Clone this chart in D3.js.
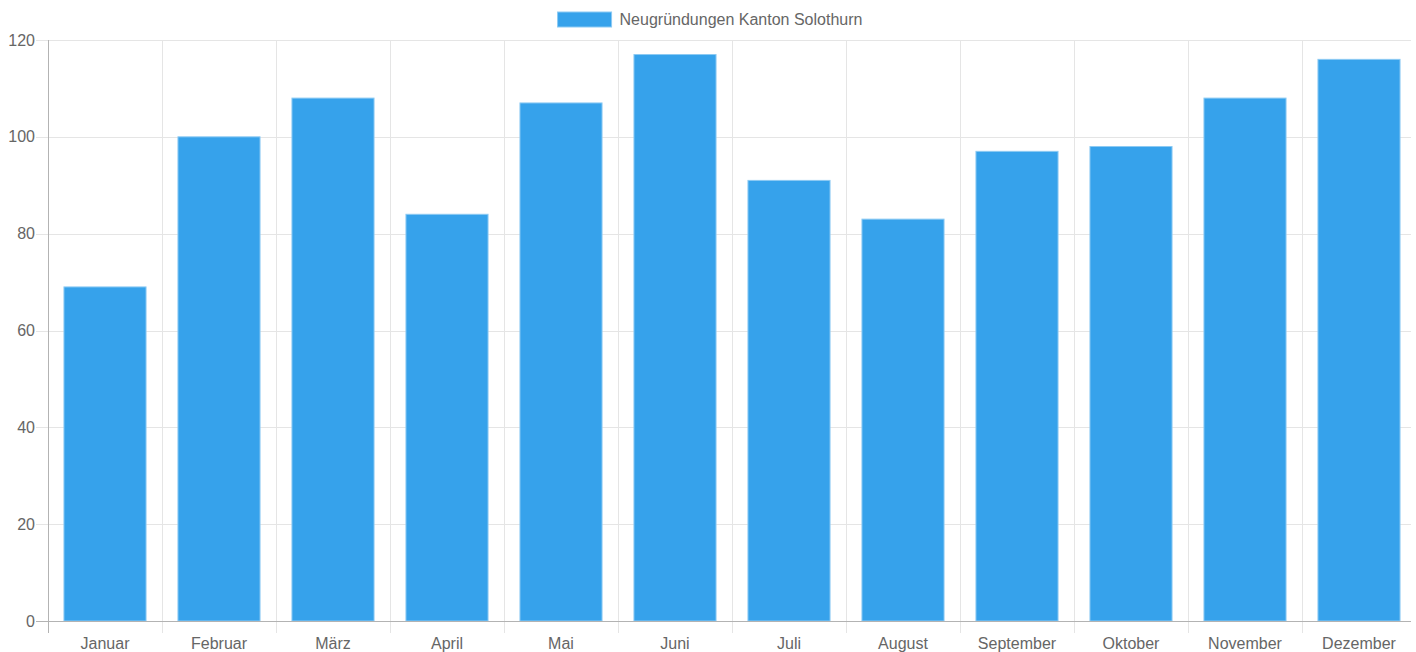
<!DOCTYPE html>
<html>
<head>
<meta charset="utf-8">
<script src="https://cdn.jsdelivr.net/npm/d3@7"></script>
<style>
  body { margin: 0; background: #fff; }
  text { font-family: "Liberation Sans", Arial, sans-serif; fill: #666; }
</style>
</head>
<body>
<div id="chart"></div>
<script>
// data
var months = ["Januar", "Februar", "März", "April", "Mai", "Juni", "Juli", "August", "September", "Oktober", "November", "Dezember"];
var values = [69, 100, 108, 84, 107, 117, 91, 83, 97, 98, 108, 116];
var yTicks = [0, 20, 40, 60, 80, 100, 120];
var seriesName = "Neugründungen Kanton Solothurn";

var svgWidth = 1416;
var svgHeight = 652;
var margin = { top: 40, right: 0, bottom: 31, left: 48 };
var width = svgWidth - margin.left - margin.right;
var height = svgHeight - margin.top - margin.bottom;

var svg = d3.select("#chart").append("svg")
    .attr("width", svgWidth)
    .attr("height", svgHeight);

var chartGroup = svg.append("g")
    .attr("transform", `translate(${margin.left}, ${margin.top})`);

// scales
var x = d3.scaleBand().domain(months).range([0, width]).padding(0);
var y = d3.scaleLinear().domain([0, 120]).range([height, 0]);

var bw = x.bandwidth();

// horizontal grid + tick marks
chartGroup.append("g").selectAll("line")
    .data(yTicks.filter(d => d > 0))
    .enter().append("line")
    .attr("x1", -12).attr("x2", width - 5)
    .attr("y1", d => Math.round(y(d)) + 0.5).attr("y2", d => Math.round(y(d)) + 0.5)
    .attr("stroke", "#e5e5e5");

// vertical grid lines at category boundaries
chartGroup.append("g").selectAll("line")
    .data(months.slice(1))
    .enter().append("line")
    .attr("x1", d => Math.round(x(d)) + 0.5).attr("x2", d => Math.round(x(d)) + 0.5)
    .attr("y1", 0).attr("y2", height + 12)
    .attr("stroke", "#e5e5e5");

// bars
chartGroup.selectAll("rect")
    .data(values)
    .enter().append("rect")
    .attr("x", (d, i) => x(months[i]) + bw * 0.14)
    .attr("width", bw * 0.72)
    .attr("y", d => y(d))
    .attr("height", d => height - y(d))
    .attr("fill", "#36a2eb")
    .attr("stroke", "#8ccaf3")
    .attr("stroke-width", 1);

// axis lines
chartGroup.append("line")
    .attr("x1", 0.5).attr("x2", 0.5).attr("y1", 0).attr("y2", height + 12)
    .attr("stroke", "#b3b3b3");
chartGroup.append("line")
    .attr("x1", -12).attr("x2", width - 5).attr("y1", height + 0.5).attr("y2", height + 0.5)
    .attr("stroke", "#b3b3b3");

// y tick labels
chartGroup.append("g").selectAll("text")
    .data(yTicks)
    .enter().append("text")
    .attr("x", -13)
    .attr("y", d => y(d))
    .attr("dy", "0.35em")
    .attr("text-anchor", "end")
    .style("font-size", "16px")
    .text(d => d);

// x tick labels
chartGroup.append("g").selectAll("text")
    .data(months)
    .enter().append("text")
    .attr("x", d => x(d) + bw / 2)
    .attr("y", height + 22)
    .attr("dy", "0.35em")
    .attr("text-anchor", "middle")
    .style("font-size", "16px")
    .text(d => d);

// legend
var legend = svg.append("g");
var legendText = legend.append("text")
    .attr("y", 19)
    .attr("dy", "0.35em")
    .style("font-size", "16px")
    .text(seriesName);
var tw = legendText.node().getComputedTextLength();
var lx = 710 - (54 + 8 + tw) / 2;
legend.append("rect")
    .attr("x", lx).attr("y", 12)
    .attr("width", 54).attr("height", 15)
    .attr("fill", "#36a2eb")
    .attr("stroke", "#8ccaf3");
legendText.attr("x", lx + 62);
</script>
</body>
</html>
